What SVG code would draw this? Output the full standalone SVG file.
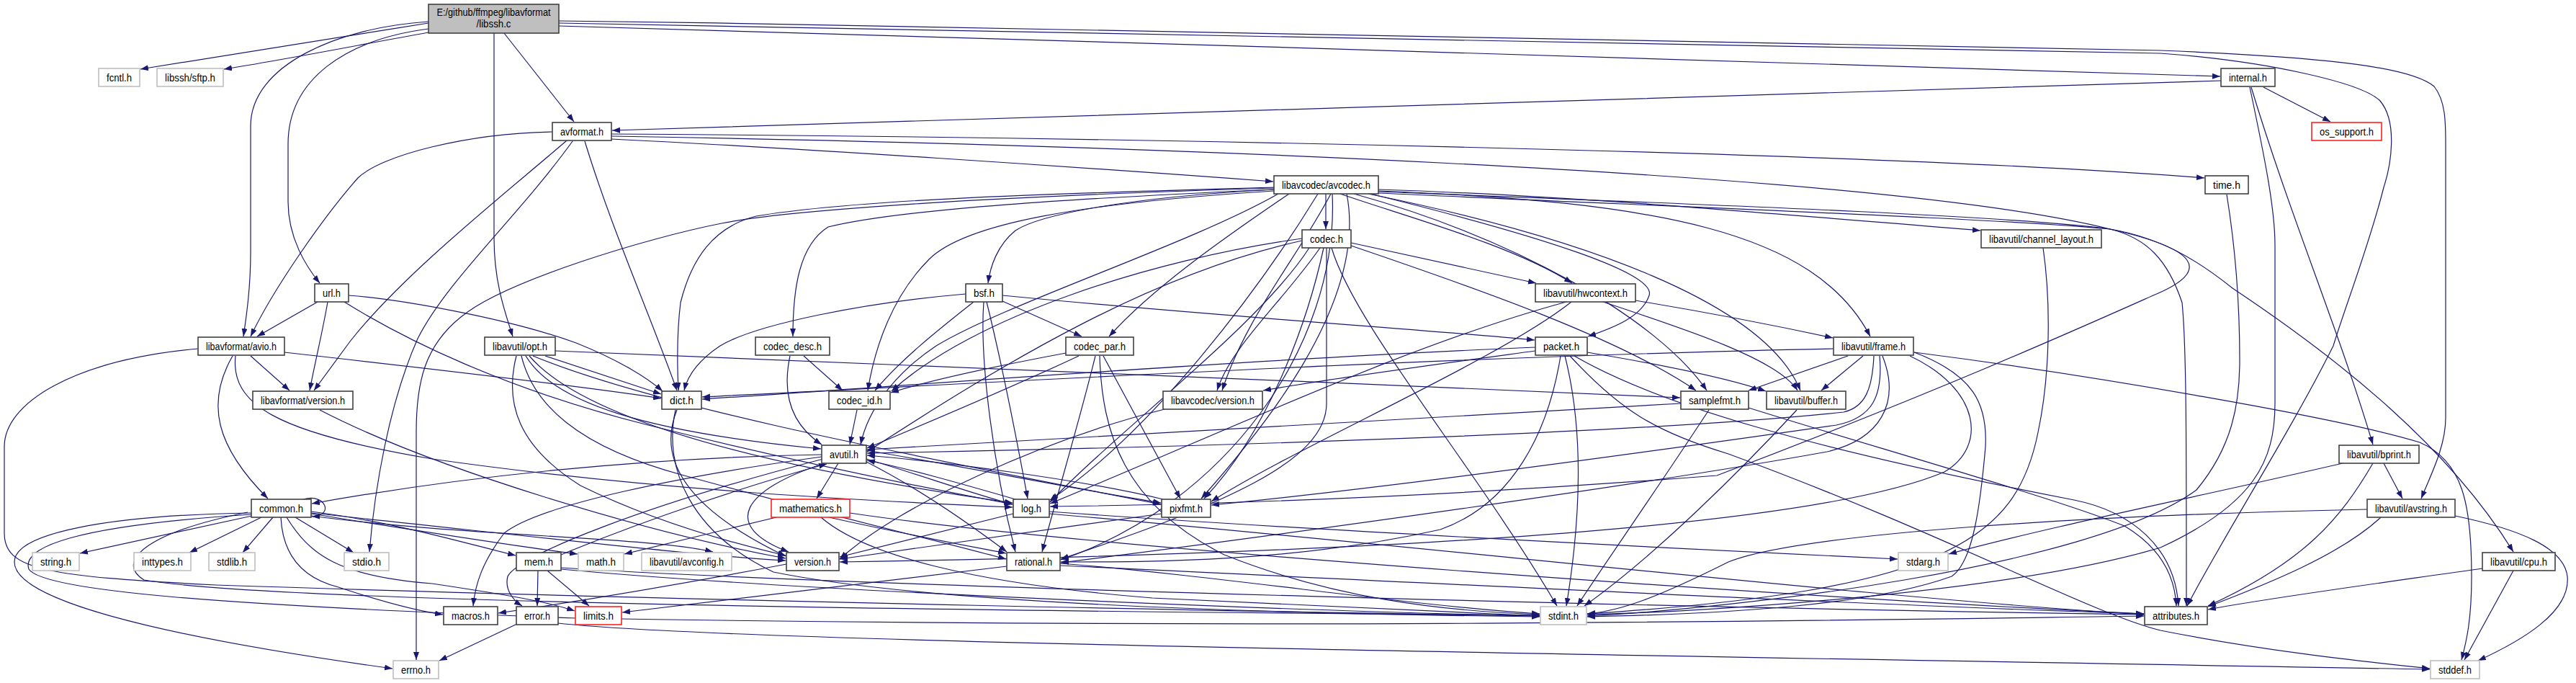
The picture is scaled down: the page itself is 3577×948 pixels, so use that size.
<svg xmlns="http://www.w3.org/2000/svg" width="3577" height="948" viewBox="0 0 3577 948">
<style>
.n rect{fill:#fff;stroke:#404040;stroke-width:1.6}
.g rect{stroke:#bfbfbf}
.r rect{stroke:#ff2020}
.root rect{fill:#bfbfbf}
text{font-family:"Liberation Sans",Arial,sans-serif;font-size:14px;text-anchor:middle;fill:#000}
#edges path{fill:none;stroke:#191970;stroke-width:1.2;marker-end:url(#ah)}
</style>
<defs>
<marker id="ah" viewBox="0 0 11 8" refX="11" refY="4" markerWidth="11" markerHeight="8" markerUnits="userSpaceOnUse" orient="auto"><path d="M0,0 L11,4 L0,8 z" fill="#191970"/></marker>
</defs>
<rect width="3577" height="948" fill="#fff"/>
<g id="edges">
<path d="M595,32 C450,55 300,78 195,96"/>
<path d="M595,45 C500,62 400,82 311,96"/>
<path d="M595,30 C470,38 348,90 348,175 L348,350 C348,400 342,440 338,467"/>
<path d="M595,40 C480,55 400,110 400,200 L400,280 C400,330 425,370 444,393"/>
<path d="M686,46 L686,330 C686,390 700,430 712,467"/>
<path d="M700,46 L797,169"/>
<path d="M776,36 C1500,55 2500,90 3083,106"/>
<path d="M776,29 C1800,42 2900,64 3000,70 C3250,80 3350,95 3380,120 C3396,140 3396,170 3396,200 L3396,580 C3396,620 3375,660 3362,692"/>
<path d="M776,32 C1800,52 2900,68 3000,74 C3150,85 3280,115 3305,140 C3330,170 3320,230 3310,260 C3290,340 3255,430 3240,480 C3180,600 3090,740 3037,841"/>
<path d="M3084,112 C2500,125 1500,165 850,181"/>
<path d="M3143,121 L3236,169"/>
<path d="M3124,121 C3145,220 3159,290 3159,340 L3159,560 C3159,640 3130,700 3000,760 C2800,820 2400,848 2204,853"/>
<path d="M3126,121 C3180,300 3245,450 3295,617"/>
<path d="M767,183 C650,185 530,215 497,247 C450,300 380,400 348,467"/>
<path d="M787,195 C700,270 560,380 486,474 L436,542"/>
<path d="M795,196 C720,300 620,390 580,470 C540,560 520,680 513,766"/>
<path d="M812,196 C850,320 900,430 940,542"/>
<path d="M849,193 C1100,205 1500,232 1768,252"/>
<path d="M849,186 C1500,190 2600,210 3061,247"/>
<path d="M849,189 C1500,200 2600,235 2930,318 C3050,345 3075,375 2990,410 C2900,450 2700,540 2384,660 C2000,690 1700,700 1458,703"/>
<path d="M1841,269 L1841,318"/>
<path d="M1769,263 C1550,275 1440,300 1410,320 C1385,340 1375,370 1372,393"/>
<path d="M1769,260 C1500,268 1200,275 1050,300 C990,315 960,360 945,420 C940,460 940,500 942,542"/>
<path d="M1769,261 C1400,272 1100,290 1002,310 C900,330 700,390 640,440 C590,480 578,530 578,600 L578,916"/>
<path d="M1769,263 C1500,275 1250,290 1150,315 C1110,340 1101,400 1101,467"/>
<path d="M1769,265 C1500,282 1340,310 1290,360 C1240,410 1215,480 1205,542"/>
<path d="M1775,269 C1650,340 1400,420 1300,480 C1240,520 1205,570 1195,617"/>
<path d="M1830,269 C1750,400 1600,600 1458,694"/>
<path d="M1850,269 C1860,480 1700,700 1473,777"/>
<path d="M1870,269 C1900,420 1750,600 1668,692"/>
<path d="M1790,269 C1700,330 1600,400 1540,467"/>
<path d="M1848,269 C1800,360 1730,440 1697,542"/>
<path d="M1880,269 C2100,330 2300,440 2370,542"/>
<path d="M1900,269 C2200,330 2450,420 2500,542"/>
<path d="M1914,263 C2200,272 2500,300 2750,320"/>
<path d="M1914,265 C2300,280 2520,320 2597,467"/>
<path d="M1861,269 C1950,300 2100,340 2183,393"/>
<path d="M1903,269 C2150,330 2300,380 2290,410 C2280,440 2240,455 2205,467"/>
<path d="M1914,266 C2400,285 2800,300 2930,318 C3000,330 3050,360 3100,400 C3250,500 3400,620 3490,766"/>
<path d="M1914,268 C2400,290 2800,305 2930,318 C2980,330 3010,360 3030,420 C3036,480 3036,600 3036,841"/>
<path d="M3092,270 C3105,350 3110,420 3110,500 C3110,560 3100,620 3050,680 C2900,790 2400,845 2204,855"/>
<path d="M1808,334 C1600,380 1400,500 1204,627"/>
<path d="M1876,337 L2133,393"/>
<path d="M1818,344 C1750,450 1550,600 1458,697"/>
<path d="M1838,344 C1815,450 1760,600 1672,692"/>
<path d="M1842,344 L1842,560 C1842,640 1700,700 1473,776"/>
<path d="M1876,341 C2050,400 2250,470 2355,542"/>
<path d="M1833,344 C1780,420 1710,480 1690,542"/>
<path d="M1808,331 C1600,360 1350,440 1238,543"/>
<path d="M1849,344 C1880,450 2050,650 2162,841"/>
<path d="M2837,344 C2848,420 2847,520 2830,600 C2800,750 2700,820 2204,852"/>
<path d="M441,419 L357,467"/>
<path d="M455,419 C448,460 438,500 430,542"/>
<path d="M484,410 C550,415 700,440 800,476 C860,500 900,525 920,543"/>
<path d="M478,419 C560,470 700,540 900,590 C1100,640 1300,680 1406,700"/>
<path d="M1341,408 C1200,420 1050,450 1000,480 C970,500 955,520 950,542"/>
<path d="M1370,419 C1390,500 1410,600 1427,692"/>
<path d="M1366,419 C1360,500 1380,650 1410,766"/>
<path d="M1352,419 C1300,460 1250,500 1215,542"/>
<path d="M1392,418 L1502,467"/>
<path d="M1392,410 C1700,440 1950,455 2131,472"/>
<path d="M2226,419 C2350,460 2470,500 2496,542"/>
<path d="M2271,417 C2380,435 2480,455 2545,469"/>
<path d="M2175,419 C1950,480 1700,600 1458,699"/>
<path d="M2182,419 C2080,500 1800,620 1682,696"/>
<path d="M323,494 C285,560 300,620 372,692"/>
<path d="M348,494 L402,542"/>
<path d="M327,494 C320,560 380,600 600,637 C900,680 1200,695 1406,704"/>
<path d="M395,489 C600,512 800,535 918,553"/>
<path d="M275,484 C100,500 6,560 6,620 L6,740 C6,790 60,800 300,812 C1000,835 1800,850 2138,855"/>
<path d="M717,494 C700,560 720,620 806,674 C900,720 1000,750 1091,771"/>
<path d="M724,494 C740,560 800,620 950,660 C1150,715 1300,750 1397,776"/>
<path d="M730,494 C770,560 900,600 1140,623"/>
<path d="M757,494 L918,547"/>
<path d="M771,487 C1200,500 1800,530 2333,552"/>
<path d="M740,494 C900,560 1200,620 1612,700"/>
<path d="M735,494 C800,570 1000,640 1406,698"/>
<path d="M1097,494 C1085,550 1100,590 1141,617"/>
<path d="M1116,494 L1170,542"/>
<path d="M1480,490 C1400,505 1300,525 1237,545"/>
<path d="M1498,494 C1400,540 1280,590 1204,622"/>
<path d="M1521,494 C1500,580 1470,680 1447,766"/>
<path d="M1532,494 L1639,692"/>
<path d="M1527,494 C1530,600 1560,700 1700,770 C1850,830 2000,848 2138,853"/>
<path d="M2132,482 C1700,500 1200,540 975,554"/>
<path d="M2132,487 C2000,505 1850,525 1754,542"/>
<path d="M2167,494 C2150,600 2100,700 2000,735 C1800,780 1600,780 1473,780"/>
<path d="M2173,494 C2200,600 2195,720 2175,841"/>
<path d="M2180,494 C2250,570 2300,600 2400,630 C2700,740 2900,850 3000,875 C3150,905 3300,920 3374,928"/>
<path d="M2186,494 C2300,560 2500,620 2880,694 C2960,710 3020,760 3025,841"/>
<path d="M2204,489 C2300,505 2400,525 2452,543"/>
<path d="M2546,484 C2000,495 1400,530 975,551"/>
<path d="M2566,494 L2428,542"/>
<path d="M2587,494 L2529,542"/>
<path d="M2602,494 C2600,540 2590,565 2560,572 C2300,600 1700,620 1204,629"/>
<path d="M2610,494 C2615,550 2600,580 2550,590 C2200,640 1900,680 1682,701"/>
<path d="M2614,494 C2640,560 2610,610 2537,627 C2300,670 1800,740 1473,781"/>
<path d="M2652,494 C2750,540 2760,620 2700,655 C2500,740 1800,770 1166,780"/>
<path d="M2658,489 C2740,520 2760,560 2757,620 C2750,700 2740,780 2710,800 C2600,840 2400,852 2204,856"/>
<path d="M2658,489 C2900,520 3250,580 3360,614 C3420,640 3432,700 3432,800 C3432,860 3425,890 3418,916"/>
<path d="M2334,560 C1900,585 1500,610 1204,624"/>
<path d="M2373,569 C2300,680 2230,780 2190,841"/>
<path d="M2428,566 C2600,620 2850,690 2950,730 C3000,760 3020,800 3022,841"/>
<path d="M2495,569 C2420,650 2300,770 2200,841"/>
<path d="M444,569 C600,650 900,740 1091,775"/>
<path d="M940,569 C915,630 940,700 1091,772"/>
<path d="M938,569 C920,650 960,740 1074,794 C1300,840 1800,852 2138,856"/>
<path d="M1190,569 L1180,617"/>
<path d="M1617,568 C1450,610 1250,700 1166,776"/>
<path d="M1141,631 C900,635 650,660 433,699"/>
<path d="M1164,643 L1134,692"/>
<path d="M1141,634 C950,660 750,700 700,740 C670,780 660,810 657,841"/>
<path d="M1143,637 C900,700 720,770 705,800 C700,820 715,835 725,841"/>
<path d="M1145,643 C1030,680 1000,730 1095,766"/>
<path d="M1203,641 C1280,680 1350,730 1398,766"/>
<path d="M1203,637 C1280,660 1350,685 1406,700"/>
<path d="M1203,625 C1350,650 1500,680 1612,698"/>
<path d="M3310,643 L3336,692"/>
<path d="M3295,643 C3250,720 3200,780 3066,841"/>
<path d="M3253,643 C3050,690 2850,730 2706,769"/>
<path d="M350,716 L111,768"/>
<path d="M363,718 L263,767"/>
<path d="M379,718 L337,767"/>
<path d="M410,718 L491,767"/>
<path d="M349,712 C150,715 20,740 20,780 C20,830 200,880 545,928"/>
<path d="M421,693 C452,684 465,716 433,717"/>
<path d="M432,710 C550,725 650,755 716,771"/>
<path d="M432,713 C600,740 730,760 802,769"/>
<path d="M432,716 C650,745 900,745 990,766"/>
<path d="M432,712 C700,740 950,770 1091,778"/>
<path d="M390,718 C392,760 410,800 470,815 C530,835 580,848 615,853"/>
<path d="M398,718 C430,770 470,800 600,810 C700,825 760,835 798,848"/>
<path d="M344,711 C200,740 160,780 200,805 C400,840 1600,850 2138,854"/>
<path d="M349,714 C100,730 30,760 40,790 C60,820 300,840 800,858 C1800,875 2600,860 2977,855"/>
<path d="M1078,718 L867,769"/>
<path d="M1151,718 C1250,740 1330,755 1397,768"/>
<path d="M1140,718 C1200,770 1350,810 1600,830 C1900,845 2050,852 2138,855"/>
<path d="M1180,712 C1500,760 2500,830 2977,852"/>
<path d="M1410,693 C1330,670 1260,650 1204,639"/>
<path d="M1457,710 C1800,735 2300,760 2635,776"/>
<path d="M1457,713 C2000,760 2600,830 2977,853"/>
<path d="M1407,713 C1300,740 1220,760 1166,773"/>
<path d="M1615,693 C1500,665 1300,640 1204,632"/>
<path d="M1613,713 C1450,735 1250,765 1166,776"/>
<path d="M3287,707 C2900,715 2500,740 2400,780 C2300,830 2250,848 2204,852"/>
<path d="M3306,718 C3250,770 3150,810 3066,842"/>
<path d="M3409,716 C3500,735 3560,760 3565,800 C3570,850 3500,890 3441,917"/>
<path d="M3447,789 C3300,810 3150,830 3066,846"/>
<path d="M3490,792 L3422,916"/>
<path d="M747,792 L746,841"/>
<path d="M760,792 L818,841"/>
<path d="M779,770 C900,720 1050,670 1148,644"/>
<path d="M779,790 C1100,820 1800,848 2138,855"/>
<path d="M779,788 C1200,815 2400,845 2977,853"/>
<path d="M1092,783 C950,810 800,835 692,851"/>
<path d="M1398,786 C1200,810 1000,835 864,850"/>
<path d="M1472,782 C1700,800 1950,840 2138,852"/>
<path d="M1472,785 C2000,810 2600,840 2977,852"/>
<path d="M718,866 L610,917"/>
<path d="M775,865 C1000,890 2000,905 3374,929"/>
</g>
<g id="node-root" class="n root"><rect x="595" y="6" width="181" height="40"/><text x="685.5" y="22" textLength="158" lengthAdjust="spacingAndGlyphs">E:/github/ffmpeg/libavformat</text><text x="685.5" y="38" textLength="48" lengthAdjust="spacingAndGlyphs">/libssh.c</text></g>
<g id="node-fcntl" class="n g"><rect x="137" y="95" width="57" height="25"/><text x="165.5" y="112.5" textLength="35" lengthAdjust="spacingAndGlyphs">fcntl.h</text></g>
<g id="node-sftp" class="n g"><rect x="218" y="95" width="92" height="25"/><text x="264" y="112.5" textLength="70" lengthAdjust="spacingAndGlyphs">libssh/sftp.h</text></g>
<g id="node-internal" class="n"><rect x="3084" y="95" width="75" height="25"/><text x="3121.5" y="112.5" textLength="53" lengthAdjust="spacingAndGlyphs">internal.h</text></g>
<g id="node-avformat" class="n"><rect x="767" y="170" width="82" height="25"/><text x="808" y="187.5" textLength="60" lengthAdjust="spacingAndGlyphs">avformat.h</text></g>
<g id="node-os_support" class="n r"><rect x="3210" y="170" width="97" height="25"/><text x="3258.5" y="187.5" textLength="75" lengthAdjust="spacingAndGlyphs">os_support.h</text></g>
<g id="node-avcodec" class="n"><rect x="1769" y="244" width="145" height="25"/><text x="1841.5" y="261.5" textLength="123" lengthAdjust="spacingAndGlyphs">libavcodec/avcodec.h</text></g>
<g id="node-time" class="n"><rect x="3062" y="244" width="60" height="25"/><text x="3092" y="261.5" textLength="38" lengthAdjust="spacingAndGlyphs">time.h</text></g>
<g id="node-codec" class="n"><rect x="1808" y="319" width="68" height="25"/><text x="1842" y="336.5" textLength="46" lengthAdjust="spacingAndGlyphs">codec.h</text></g>
<g id="node-channel_layout" class="n"><rect x="2751" y="319" width="167" height="25"/><text x="2834.5" y="336.5" textLength="145" lengthAdjust="spacingAndGlyphs">libavutil/channel_layout.h</text></g>
<g id="node-url" class="n"><rect x="437" y="394" width="47" height="25"/><text x="460.5" y="411.5" textLength="25" lengthAdjust="spacingAndGlyphs">url.h</text></g>
<g id="node-bsf" class="n"><rect x="1341" y="394" width="51" height="25"/><text x="1366.5" y="411.5" textLength="29" lengthAdjust="spacingAndGlyphs">bsf.h</text></g>
<g id="node-hwcontext" class="n"><rect x="2132" y="394" width="139" height="25"/><text x="2201.5" y="411.5" textLength="117" lengthAdjust="spacingAndGlyphs">libavutil/hwcontext.h</text></g>
<g id="node-avio" class="n"><rect x="275" y="468" width="120" height="25"/><text x="335" y="485.5" textLength="98" lengthAdjust="spacingAndGlyphs">libavformat/avio.h</text></g>
<g id="node-opt" class="n"><rect x="673" y="468" width="98" height="25"/><text x="722" y="485.5" textLength="76" lengthAdjust="spacingAndGlyphs">libavutil/opt.h</text></g>
<g id="node-codec_desc" class="n"><rect x="1049" y="468" width="103" height="25"/><text x="1100.5" y="485.5" textLength="81" lengthAdjust="spacingAndGlyphs">codec_desc.h</text></g>
<g id="node-codec_par" class="n"><rect x="1480" y="468" width="94" height="25"/><text x="1527" y="485.5" textLength="72" lengthAdjust="spacingAndGlyphs">codec_par.h</text></g>
<g id="node-packet" class="n"><rect x="2132" y="468" width="72" height="25"/><text x="2168" y="485.5" textLength="50" lengthAdjust="spacingAndGlyphs">packet.h</text></g>
<g id="node-frame" class="n"><rect x="2546" y="468" width="111" height="25"/><text x="2601.5" y="485.5" textLength="89" lengthAdjust="spacingAndGlyphs">libavutil/frame.h</text></g>
<g id="node-lavf_version" class="n"><rect x="351" y="543" width="139" height="25"/><text x="420.5" y="560.5" textLength="117" lengthAdjust="spacingAndGlyphs">libavformat/version.h</text></g>
<g id="node-dict" class="n"><rect x="919" y="543" width="55" height="25"/><text x="946.5" y="560.5" textLength="33" lengthAdjust="spacingAndGlyphs">dict.h</text></g>
<g id="node-codec_id" class="n"><rect x="1151" y="543" width="85" height="25"/><text x="1193.5" y="560.5" textLength="63" lengthAdjust="spacingAndGlyphs">codec_id.h</text></g>
<g id="node-lavc_version" class="n"><rect x="1615" y="543" width="138" height="25"/><text x="1684" y="560.5" textLength="116" lengthAdjust="spacingAndGlyphs">libavcodec/version.h</text></g>
<g id="node-samplefmt" class="n"><rect x="2334" y="543" width="94" height="25"/><text x="2381" y="560.5" textLength="72" lengthAdjust="spacingAndGlyphs">samplefmt.h</text></g>
<g id="node-buffer" class="n"><rect x="2453" y="543" width="110" height="25"/><text x="2508" y="560.5" textLength="88" lengthAdjust="spacingAndGlyphs">libavutil/buffer.h</text></g>
<g id="node-avutil" class="n"><rect x="1141" y="618" width="62" height="25"/><text x="1172" y="635.5" textLength="40" lengthAdjust="spacingAndGlyphs">avutil.h</text></g>
<g id="node-bprint" class="n"><rect x="3248" y="618" width="111" height="25"/><text x="3303.5" y="635.5" textLength="89" lengthAdjust="spacingAndGlyphs">libavutil/bprint.h</text></g>
<g id="node-common" class="n"><rect x="349" y="693" width="83" height="25"/><text x="390.5" y="710.5" textLength="61" lengthAdjust="spacingAndGlyphs">common.h</text></g>
<g id="node-mathematics" class="n r"><rect x="1071" y="693" width="109" height="25"/><text x="1125.5" y="710.5" textLength="87" lengthAdjust="spacingAndGlyphs">mathematics.h</text></g>
<g id="node-log" class="n"><rect x="1407" y="693" width="50" height="25"/><text x="1432" y="710.5" textLength="28" lengthAdjust="spacingAndGlyphs">log.h</text></g>
<g id="node-pixfmt" class="n"><rect x="1613" y="693" width="68" height="25"/><text x="1647" y="710.5" textLength="46" lengthAdjust="spacingAndGlyphs">pixfmt.h</text></g>
<g id="node-avstring" class="n"><rect x="3287" y="693" width="122" height="25"/><text x="3348" y="710.5" textLength="100" lengthAdjust="spacingAndGlyphs">libavutil/avstring.h</text></g>
<g id="node-string" class="n g"><rect x="45" y="767" width="65" height="25"/><text x="77.5" y="784.5" textLength="43" lengthAdjust="spacingAndGlyphs">string.h</text></g>
<g id="node-inttypes" class="n g"><rect x="186" y="767" width="79" height="25"/><text x="225.5" y="784.5" textLength="57" lengthAdjust="spacingAndGlyphs">inttypes.h</text></g>
<g id="node-stdlib" class="n g"><rect x="290" y="767" width="64" height="25"/><text x="322" y="784.5" textLength="42" lengthAdjust="spacingAndGlyphs">stdlib.h</text></g>
<g id="node-stdio" class="n g"><rect x="478" y="767" width="62" height="25"/><text x="509" y="784.5" textLength="40" lengthAdjust="spacingAndGlyphs">stdio.h</text></g>
<g id="node-mem" class="n"><rect x="717" y="767" width="62" height="25"/><text x="748" y="784.5" textLength="40" lengthAdjust="spacingAndGlyphs">mem.h</text></g>
<g id="node-math" class="n g"><rect x="803" y="767" width="63" height="25"/><text x="834.5" y="784.5" textLength="41" lengthAdjust="spacingAndGlyphs">math.h</text></g>
<g id="node-avconfig" class="n g"><rect x="891" y="767" width="125" height="25"/><text x="953.5" y="784.5" textLength="103" lengthAdjust="spacingAndGlyphs">libavutil/avconfig.h</text></g>
<g id="node-version" class="n"><rect x="1092" y="767" width="73" height="25"/><text x="1128.5" y="784.5" textLength="51" lengthAdjust="spacingAndGlyphs">version.h</text></g>
<g id="node-rational" class="n"><rect x="1398" y="767" width="74" height="25"/><text x="1435" y="784.5" textLength="52" lengthAdjust="spacingAndGlyphs">rational.h</text></g>
<g id="node-stdarg" class="n g"><rect x="2636" y="767" width="69" height="25"/><text x="2670.5" y="784.5" textLength="47" lengthAdjust="spacingAndGlyphs">stdarg.h</text></g>
<g id="node-cpu" class="n"><rect x="3447" y="767" width="101" height="25"/><text x="3497.5" y="784.5" textLength="79" lengthAdjust="spacingAndGlyphs">libavutil/cpu.h</text></g>
<g id="node-macros" class="n"><rect x="616" y="842" width="75" height="25"/><text x="653.5" y="859.5" textLength="53" lengthAdjust="spacingAndGlyphs">macros.h</text></g>
<g id="node-error" class="n"><rect x="717" y="842" width="58" height="25"/><text x="746" y="859.5" textLength="36" lengthAdjust="spacingAndGlyphs">error.h</text></g>
<g id="node-limits" class="n r"><rect x="799" y="842" width="64" height="25"/><text x="831" y="859.5" textLength="42" lengthAdjust="spacingAndGlyphs">limits.h</text></g>
<g id="node-stdint" class="n g"><rect x="2139" y="842" width="64" height="25"/><text x="2171" y="859.5" textLength="42" lengthAdjust="spacingAndGlyphs">stdint.h</text></g>
<g id="node-attributes" class="n"><rect x="2978" y="842" width="87" height="25"/><text x="3021.5" y="859.5" textLength="65" lengthAdjust="spacingAndGlyphs">attributes.h</text></g>
<g id="node-errno" class="n g"><rect x="546" y="917" width="63" height="25"/><text x="577.5" y="934.5" textLength="41" lengthAdjust="spacingAndGlyphs">errno.h</text></g>
<g id="node-stddef" class="n g"><rect x="3375" y="917" width="68" height="25"/><text x="3409" y="934.5" textLength="46" lengthAdjust="spacingAndGlyphs">stddef.h</text></g>
</svg>
